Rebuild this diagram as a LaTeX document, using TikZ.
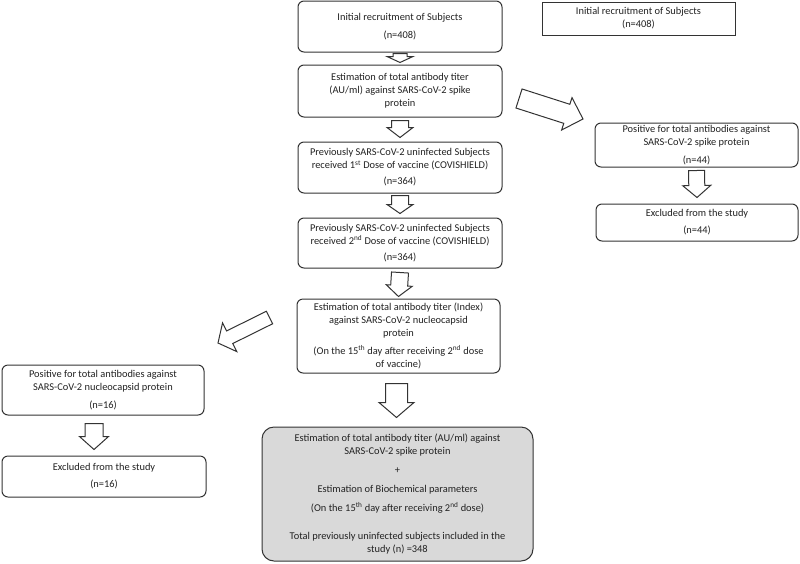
\documentclass[tikz,border=0pt]{standalone}
\usepackage{fontspec}
\setmainfont{Carlito}
\usetikzlibrary{calc}
\definecolor{linec}{HTML}{333333}
\definecolor{textc}{HTML}{222222}
\definecolor{greyfill}{HTML}{D9D9D9}
\tikzset{
  box/.style={draw=linec, line width=1pt, rounded corners=6pt, align=center,
    inner sep=2pt, text=textc, font=\fontsize{10.4}{13}\selectfont},
  sqbox/.style={box, rounded corners=0pt},
  greybox/.style={box, fill=greyfill, rounded corners=12pt},
  blockarrow/.style={draw=linec, line width=1pt, fill=white, line join=miter},
}
% #1 start, #2 tip, #3 shaft half width, #4 head half width, #5 head length
\newcommand{\barrow}[5]{%
  \coordinate (ba-s) at (#1);
  \coordinate (ba-e) at (#2);
  \coordinate (ba-h) at ($(ba-e)!#5!(ba-s)$);
  \draw[blockarrow] ($(ba-s)!#3!90:(ba-e)$) -- ($(ba-h)!#3!-90:(ba-s)$)
    -- ($(ba-h)!#4!-90:(ba-s)$) -- (ba-e) -- ($(ba-h)!#4!90:(ba-s)$)
    -- ($(ba-h)!#3!90:(ba-s)$) -- ($(ba-s)!#3!-90:(ba-e)$) -- cycle;
}
\begin{document}
\begin{tikzpicture}[x=1pt,y=-1pt]
\useasboundingbox[fill=white] (0,0) rectangle (800,563);

% main column
\node[box, minimum width=204pt, minimum height=51pt] (b1) at (400,26.5)
  {Initial recruitment of Subjects\\[5pt](n=408)};
\node[box, minimum width=204pt, minimum height=52pt] (b2) at (400,91)
  {Estimation of total antibody titer\\(AU/ml) against SARS-CoV-2 spike\\protein};
\node[box, minimum width=204pt, minimum height=51pt] (b3) at (400,167.5)
  {Previously SARS-CoV-2 uninfected Subjects\\received 1\textsuperscript{st} Dose of vaccine (COVISHIELD)\\[3pt](n=364)};
\node[box, minimum width=204pt, minimum height=50pt] (b4) at (400,243)
  {Previously SARS-CoV-2 uninfected Subjects\\received 2\textsuperscript{nd} Dose of vaccine (COVISHIELD)\\[3pt](n=364)};
\node[box, minimum width=203pt, minimum height=74pt] (b5) at (398.5,336)
  {Estimation of total antibody titer (Index)\\against SARS-CoV-2 nucleocapsid\\protein\\[5pt](On the 15\textsuperscript{th} day after receiving 2\textsuperscript{nd} dose\\of vaccine)};
\node[greybox, minimum width=271pt, minimum height=134pt] (b6) at (397.5,494)
  {Estimation of total antibody titer (AU/ml) against\\SARS-CoV-2 spike protein\\[6pt]+\\[6pt]Estimation of Biochemical parameters\\[6pt](On the 15\textsuperscript{th} day after receiving 2\textsuperscript{nd} dose)\\[15pt]Total previously uninfected subjects included in the\\study (n) =348};

% right column
\node[sqbox, minimum width=193pt, minimum height=33pt] (rt) at (638.5,18.5)
  {\fontsize{10.4}{12}\selectfont Initial recruitment of Subjects\\(n=408)};
\node[box, minimum width=203pt, minimum height=44pt] (r1) at (696.5,145)
  {Positive for total antibodies against\\SARS-CoV-2 spike protein\\[5pt](n=44)};
\node[box, minimum width=202pt, minimum height=37pt] (r2) at (697,222.5)
  {Excluded from the study\\[4pt](n=44)};

% left column
\node[box, minimum width=202pt, minimum height=50pt] (l1) at (103,390)
  {Positive for total antibodies against\\SARS-CoV-2 nucleocapsid protein\\[5pt](n=16)};
\node[box, minimum width=204pt, minimum height=41pt] (l2) at (104,476.5)
  {Excluded from the study\\[4pt](n=16)};

% block arrows
\barrow{$(b1.south)+(0,1)$}{$(b2.north)+(0,-2)$}{7pt}{13pt}{6pt}
\barrow{$(b2.south)+(0,3)$}{$(b3.north)+(0,-4)$}{8.5pt}{13pt}{10pt}
\barrow{$(b3.south)+(0,2)$}{$(b4.north)+(0,-4)$}{8.5pt}{13pt}{9pt}
\barrow{$(b4.south)+(0,4)$}{$(b5.north)+(0,-2)$}{8.5pt}{13pt}{11pt}
\barrow{$(b5.south)+(-2,10)$}{$(b6.north)+(-1,-9)$}{11pt}{17.5pt}{15pt}
\barrow{$(r1.south)+(0,3)$}{$(r2.north)+(0,-6)$}{8pt}{14pt}{12pt}
\barrow{$(l1.south)+(-9,8)$}{$(l2.north)+(-10,-6)$}{9pt}{14.5pt}{13pt}
\coordinate (dr-s) at (519,98.5);
\coordinate (dr-e) at (583,119);
\barrow{dr-s}{dr-e}{10pt}{17pt}{17pt}
\coordinate (dl-s) at (269.5,317.5);
\coordinate (dl-e) at (218,343);
\barrow{dl-s}{dl-e}{7pt}{16pt}{13pt}
\end{tikzpicture}
\end{document}
